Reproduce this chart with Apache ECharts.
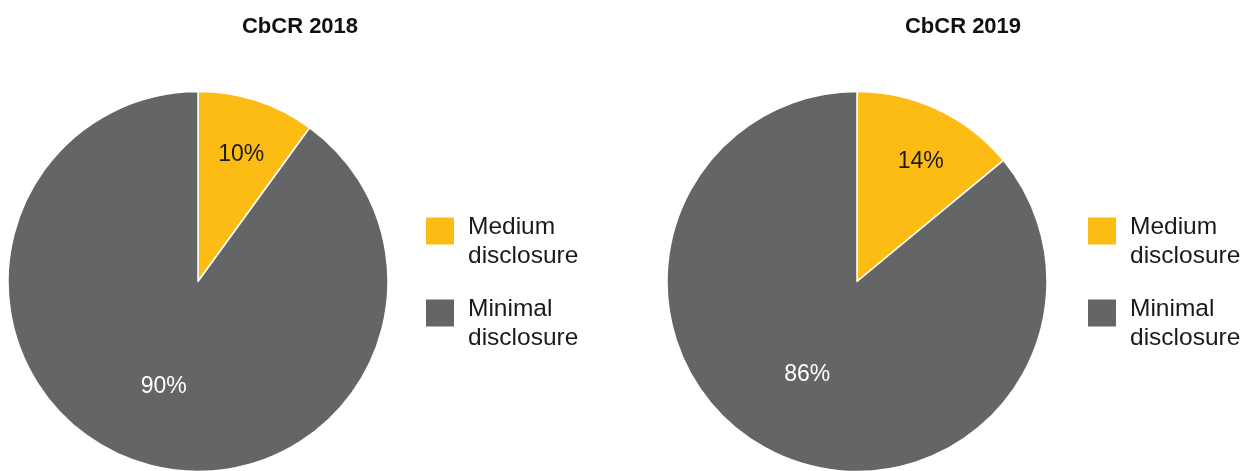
<!DOCTYPE html>
<html>
<head>
<meta charset="utf-8">
<script src="https://cdn.jsdelivr.net/npm/echarts@6/dist/echarts.min.js"></script>
<style>
html,body{margin:0;padding:0;background:#fff;}
#c{width:1248px;height:471px;}
</style>
</head>
<body>
<div id="c"></div>
<script>
const titles = ['CbCR 2018', 'CbCR 2019'];
const categories = ['Medium disclosure', 'Minimal disclosure'];
const legendLines = [['Medium', 'disclosure'], ['Minimal', 'disclosure']];
const values2018 = [10, 90];
const values2019 = [14, 86];

const colors = ['#fdbc13', '#646567'];
const labelColors = ['#1a1a1a', '#ffffff'];
const FONT = '"Liberation Sans", Arial, Helvetica, sans-serif';

const offsets = [
  [[13, -34], [-4, 12]],
  [[22, -31], [-8, 4]]
];

function makeData(vals, si) {
  return categories.map((name, i) => ({
    name: name,
    value: vals[i],
    itemStyle: { color: colors[i] },
    label: { color: labelColors[i], offset: offsets[si][i] }
  }));
}

function legend(left) {
  return {
    orient: 'vertical',
    left: left,
    top: 197,
    padding: 0,
    selectedMode: false,
    icon: 'rect',
    itemWidth: 28,
    itemHeight: 27,
    itemGap: 10,
    itemStyle: { borderWidth: 0 },
    data: categories,
    formatter: function (name) {
      const l = legendLines[categories.indexOf(name)];
      return '{s| }\n{a|' + l[0] + '}\n{a|' + l[1] + '}';
    },
    textStyle: {
      fontFamily: FONT,
      fontSize: 24,
      color: '#1a1a1a',
      rich: {
        s: { fontSize: 10, lineHeight: 22 },
        a: { fontFamily: FONT, fontSize: 24.5, lineHeight: 29, color: '#1a1a1a', padding: [0, 0, 0, 9] }
      }
    }
  };
}

const chart = echarts.init(document.getElementById('c'), null, { renderer: 'canvas' });
chart.setOption({
  animation: false,
  backgroundColor: '#ffffff',
  title: [
    { text: titles[0], left: 300, top: 16, padding: 0, textAlign: 'center',
      textStyle: { fontFamily: FONT, fontSize: 22, fontWeight: 'bold', color: '#111' } },
    { text: titles[1], left: 963, top: 16, padding: 0, textAlign: 'center',
      textStyle: { fontFamily: FONT, fontSize: 22, fontWeight: 'bold', color: '#111' } }
  ],
  legend: [legend(426), legend(1088)],
  series: [
    {
      type: 'pie',
      center: [198, 281.5],
      radius: [0, 190],
      startAngle: 90,
      clockwise: true,
      silent: true,
      itemStyle: { borderColor: '#ffffff', borderWidth: 1.5 },
      label: { show: true, position: 'inside', formatter: '{c}%', fontFamily: FONT, fontSize: 23 },
      labelLine: { show: false },
      emphasis: { disabled: true },
      data: makeData(values2018, 0)
    },
    {
      type: 'pie',
      center: [857, 281.5],
      radius: [0, 190],
      startAngle: 90,
      clockwise: true,
      silent: true,
      itemStyle: { borderColor: '#ffffff', borderWidth: 1.5 },
      label: { show: true, position: 'inside', formatter: '{c}%', fontFamily: FONT, fontSize: 23 },
      labelLine: { show: false },
      emphasis: { disabled: true },
      data: makeData(values2019, 1)
    }
  ]
});
</script>
</body>
</html>
